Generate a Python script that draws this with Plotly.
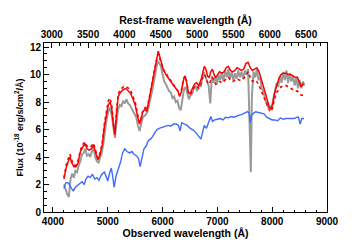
import plotly.graph_objects as go

# ---------------- data ----------------
Z1 = 1.326  # 1+z, converts observed to rest-frame wavelength

red_wl = [4200, 4240, 4280, 4310, 4340, 4380, 4420, 4460, 4500, 4540, 4580, 4620, 4660, 4700,
          4740, 4780, 4820, 4860, 4900, 4940, 4980, 5010, 5040, 5070, 5100, 5130, 5160, 5190,
          5230, 5280, 5330, 5380, 5420, 5460, 5500, 5540, 5580, 5610, 5640, 5680, 5710, 5750,
          5800, 5850, 5890, 5920, 5950, 5980, 6010, 6060, 6100, 6150, 6200, 6240, 6280, 6310,
          6340, 6380, 6410, 6440, 6470, 6500, 6540, 6580, 6620, 6660, 6700, 6730, 6760, 6790,
          6820, 6850, 6880, 6910, 6940, 6970, 7000, 7040, 7080, 7120, 7160, 7200, 7240, 7280,
          7320, 7360, 7400, 7440, 7480, 7520, 7560, 7600, 7640, 7680, 7720, 7760, 7800, 7840,
          7880, 7920, 7950, 7980, 8010, 8040, 8080, 8120, 8160, 8200, 8250, 8300, 8340, 8380,
          8420, 8460, 8500, 8530, 8560, 8580]
red_solid = [2.4, 3.2, 3.7, 4.0, 3.6, 3.3, 3.3, 3.6, 4.4, 4.7, 5.0, 4.6, 4.5, 4.6,
             4.9, 4.3, 3.8, 4.2, 4.9, 6.3, 7.2, 7.8, 8.0, 7.6, 6.4, 5.6, 7.2, 8.4,
             8.7, 8.9, 9.0, 8.8, 8.6, 8.2, 7.8, 7.0, 6.4, 6.8, 7.3, 7.5, 7.3, 8.1,
             9.2, 10.3, 11.2, 11.7, 11.3, 10.8, 10.4, 10.0, 9.8, 9.5, 9.2, 9.0, 8.8, 8.4,
             8.7, 9.6, 9.9, 9.4, 8.7, 8.6, 9.0, 9.3, 9.4, 9.2, 9.6, 10.2, 10.6, 10.4,
             9.9, 9.8, 10.2, 10.4, 10.0, 9.8, 10.0, 10.2, 10.1, 10.2, 10.5, 10.6, 10.3, 10.2,
             10.3, 10.5, 10.4, 10.3, 10.4, 10.8, 10.9, 10.5, 10.3, 10.4, 10.5, 10.2, 9.7, 9.2,
             8.6, 8.0, 7.6, 7.5, 7.9, 8.6, 9.2, 9.7, 10.0, 10.1, 10.1, 10.0, 10.0, 9.9,
             9.8, 9.8, 9.3, 9.1, 9.3, 9.3]
red_dotted = [2.5, 3.4, 3.9, 4.2, 3.8, 3.4, 3.4, 3.8, 4.5, 4.9, 5.1, 4.8, 4.7, 4.8,
              5.0, 4.5, 3.9, 4.3, 5.1, 6.5, 7.5, 8.1, 8.3, 7.8, 6.6, 5.8, 7.4, 8.6,
              8.9, 9.1, 9.15, 9.0, 8.8, 8.4, 8.0, 7.2, 6.5, 6.9, 7.4, 7.6, 7.4, 8.2,
              9.3, 10.3, 11.1, 11.5, 11.2, 10.8, 10.4, 10.1, 9.9, 9.6, 9.3, 9.1, 8.8, 8.5,
              8.8, 9.7, 9.9, 9.5, 8.7, 8.5, 8.8, 9.1, 9.2, 9.0, 9.2, 9.8, 10.0, 9.8,
              9.4, 9.3, 9.6, 9.8, 9.5, 9.3, 9.4, 9.5, 9.4, 9.5, 9.7, 9.8, 9.6, 9.5,
              9.6, 9.7, 9.6, 9.6, 9.7, 10.0, 10.2, 9.8, 9.5, 9.6, 9.5, 9.2, 8.8, 8.5,
              8.1, 7.7, 7.4, 7.3, 7.6, 8.2, 8.7, 8.9, 9.1, 9.2, 9.2, 9.1, 9.0, 8.9,
              8.8, 8.8, 8.6, 8.5, 8.5, 8.5]

gray_wl = [4200, 4230, 4260, 4290, 4320, 4350, 4380, 4410, 4440, 4470, 4500, 4530, 4560, 4590,
           4620, 4650, 4680, 4710, 4740, 4770, 4800, 4830, 4860, 4890, 4920, 4950, 4980, 5010,
           5040, 5070, 5100, 5130, 5160, 5190, 5220, 5250, 5280, 5310, 5340, 5370, 5400, 5430,
           5460, 5490, 5520, 5550, 5580, 5610, 5640, 5670, 5700, 5730, 5760, 5790, 5820, 5850,
           5880, 5910, 5940, 5970, 6000, 6030, 6060, 6090, 6120, 6150, 6180, 6210, 6240, 6270,
           6300, 6330, 6360, 6390, 6420, 6450, 6480, 6510, 6540, 6570, 6600, 6630, 6660, 6690,
           6720, 6750, 6780, 6810, 6840, 6870, 6900, 6930, 6960, 6990, 7020, 7050, 7080, 7110,
           7140, 7170, 7200, 7230, 7260, 7290, 7320, 7350, 7380, 7410, 7440, 7470, 7500, 7530,
           7560, 7590, 7610, 7630, 7660, 7690, 7720, 7750, 7780, 7810, 7840, 7870, 7900, 7930,
           7960, 7990, 8020, 8050, 8080, 8110, 8140, 8170, 8200, 8230, 8260, 8290, 8320, 8350,
           8380, 8410, 8440, 8470, 8500, 8530, 8560, 8590]
gray_flux = [2.0, 1.6, 1.3, 1.1, 2.4, 2.8, 2.5, 3.0, 2.9, 3.4, 3.7, 4.2, 4.3, 4.6,
             4.1, 4.2, 4.0, 4.4, 4.7, 4.0, 3.7, 3.6, 4.0, 4.3, 5.0, 6.1, 6.8, 7.3,
             7.6, 7.1, 6.0, 5.4, 6.6, 7.5, 7.8, 7.7, 8.1, 7.9, 8.2, 7.9, 7.8, 7.6,
             7.4, 7.2, 6.9, 6.3, 5.9, 6.4, 6.9, 7.0, 7.1, 7.4, 7.9, 8.5, 9.0, 9.7,
             10.3, 11.0, 10.8, 10.6, 10.0, 9.5, 9.3, 9.0, 8.8, 8.7, 8.3, 8.4, 8.0, 8.1,
             7.6, 7.4, 8.2, 8.9, 9.1, 8.6, 8.2, 8.5, 8.6, 9.0, 9.2, 8.8, 9.3, 9.1,
             9.8, 10.2, 9.9, 9.6, 9.2, 7.9, 9.9, 9.4, 9.9, 9.3, 10.0, 9.6, 10.1, 9.5,
             10.3, 9.8, 10.4, 9.7, 10.2, 9.6, 10.1, 9.7, 10.3, 9.8, 10.2, 9.7, 10.3, 10.0,
             10.4, 6.0, 2.9, 8.5, 10.2, 9.8, 10.4, 9.6, 9.8, 9.0, 8.8, 8.2, 7.9, 7.6,
             7.7, 7.5, 8.2, 8.9, 9.4, 9.1, 9.9, 9.4, 10.2, 9.6, 10.3, 9.4, 10.1, 9.5,
             9.9, 9.2, 9.8, 9.0, 9.6, 9.0, 9.5, 9.2]

blue_wl = [4200, 4230, 4270, 4300, 4340, 4370, 4410, 4450, 4490, 4530, 4570, 4600, 4640, 4680,
           4720, 4760, 4800, 4840, 4870, 4900, 4940, 4970, 5000, 5030, 5065, 5090, 5115, 5150,
           5190, 5230, 5270, 5310, 5350, 5400, 5440, 5480, 5520, 5560, 5590, 5620, 5660, 5700,
           5740, 5780, 5820, 5860, 5900, 5950, 6000, 6050, 6100, 6150, 6200, 6250, 6290, 6320,
           6350, 6400, 6450, 6500, 6540, 6580, 6620, 6660, 6700, 6730, 6760, 6800, 6840, 6880,
           6910, 6950, 7000, 7050, 7100, 7150, 7200, 7250, 7300, 7350, 7400, 7450, 7500, 7550,
           7580, 7600, 7620, 7660, 7700, 7750, 7800, 7850, 7900, 7950, 8000, 8050, 8100, 8150,
           8200, 8250, 8300, 8350, 8400, 8450, 8480, 8510, 8540, 8580]
blue_flux = [1.7, 2.1, 2.15, 2.0, 1.7, 1.55, 1.8, 1.95, 2.1, 2.2, 2.0, 2.4, 2.6, 2.5,
             2.75, 2.4, 2.5, 2.3, 2.6, 2.8, 2.9, 2.5, 2.25, 2.8, 3.2, 2.6, 1.8, 2.6,
             3.1, 3.6, 4.3, 4.6, 4.4, 4.3, 4.4, 4.2, 4.1, 3.9, 3.3, 3.9, 4.6, 4.8,
             5.2, 5.3, 5.5, 5.8, 6.0, 6.1, 6.15, 6.2, 6.3, 6.25, 6.4, 6.4, 6.3, 5.9,
             6.5, 6.4, 6.3, 6.1, 6.0, 5.9, 5.7, 5.5, 5.3, 5.8, 6.3, 6.1, 6.6, 6.95,
             6.6, 6.7, 6.75, 6.8, 6.7, 6.9, 6.85, 6.95, 6.9, 7.0, 7.05, 7.1, 7.2, 7.3,
             7.2, 6.5, 7.0, 7.2, 7.3, 7.25, 7.2, 7.15, 6.9, 6.8, 6.7, 6.7, 6.65, 6.85,
             6.75, 6.8, 6.8, 6.85, 6.8, 6.9, 6.9, 6.4, 6.8, 6.8]

obs_ticks = [4000, 5000, 6000, 7000, 8000, 9000]
rest_ticks = [3000, 3500, 4000, 4500, 5000, 5500, 6000, 6500]
flux_ticks = [0, 2, 4, 6, 8, 10, 12]

X_RANGE = [3836, 9000]
Y_RANGE = [0, 12.3]

# ---------------- figure ----------------
fig = go.Figure()
fig.add_trace(go.Scatter(x=gray_wl, y=gray_flux, mode="lines",
                         line=dict(color="#9a9a9a", width=2), showlegend=False))
fig.add_trace(go.Scatter(x=red_wl, y=red_dotted, mode="lines",
                         line=dict(color="#ff0000", width=1.6, dash="dot"), showlegend=False))
fig.add_trace(go.Scatter(x=red_wl, y=red_solid, mode="lines",
                         line=dict(color="#ff0000", width=1.5), showlegend=False))
fig.add_trace(go.Scatter(x=blue_wl, y=blue_flux, mode="lines",
                         line=dict(color="#3d6cff", width=1.4), showlegend=False))
# invisible trace to anchor the rest-frame axis
fig.add_trace(go.Scatter(x=[X_RANGE[0] / Z1, X_RANGE[1] / Z1], y=[0, 0], xaxis="x2",
                         mode="lines", line=dict(width=0), hoverinfo="skip", showlegend=False))

tickfont = dict(family="Liberation Sans, Arial, sans-serif", size=10, color="black", weight="bold")
titlefont = dict(family="Liberation Sans, Arial, sans-serif", size=10.5, color="black", weight="bold")

fig.update_layout(
    width=355, height=240,
    margin=dict(l=36, r=36, t=24, b=24),
    paper_bgcolor="white", plot_bgcolor="white",
    xaxis=dict(range=X_RANGE, tickvals=obs_ticks, ticktext=[str(v) for v in obs_ticks],
               ticks="inside", ticklen=5, tickwidth=1, tickcolor="black",
               minor=dict(ticks="inside", ticklen=2.5, dtick=200, tickcolor="black", showgrid=False),
               showline=True, linecolor="black", linewidth=1, mirror=False,
               showgrid=False, zeroline=False, tickfont=tickfont,
               title=dict(text="Observed wavelength (Å)", font=titlefont, standoff=2)),
    xaxis2=dict(range=[X_RANGE[0] / Z1, X_RANGE[1] / Z1], overlaying="x", side="top",
                tickvals=rest_ticks, ticktext=[str(v) for v in rest_ticks],
                ticks="inside", ticklen=5, tickwidth=1, tickcolor="black",
                minor=dict(ticks="inside", ticklen=2.5, dtick=100, tickcolor="black", showgrid=False),
                showline=True, linecolor="black", linewidth=1,
                showgrid=False, zeroline=False, tickfont=tickfont, anchor="y",
                title=dict(text="Rest-frame wavelength (Å)", font=titlefont, standoff=2)),
    yaxis=dict(range=Y_RANGE, tickvals=flux_ticks, ticktext=[str(v) for v in flux_ticks],
               ticks="inside", ticklen=5, tickwidth=1, tickcolor="black",
               minor=dict(ticks="inside", ticklen=2.5, dtick=0.5, tickcolor="black", showgrid=False),
               showline=True, linecolor="black", linewidth=1, mirror=True,
               showgrid=False, zeroline=False, tickfont=tickfont,
               title=dict(text="Flux (10<sup>-18</sup> erg/s/cm<sup>2</sup>/Å)",
                          font=dict(family="Liberation Sans, Arial, sans-serif", size=9,
                                    color="black", weight="bold"), standoff=4)),
)

fig.write_html("out.html")
